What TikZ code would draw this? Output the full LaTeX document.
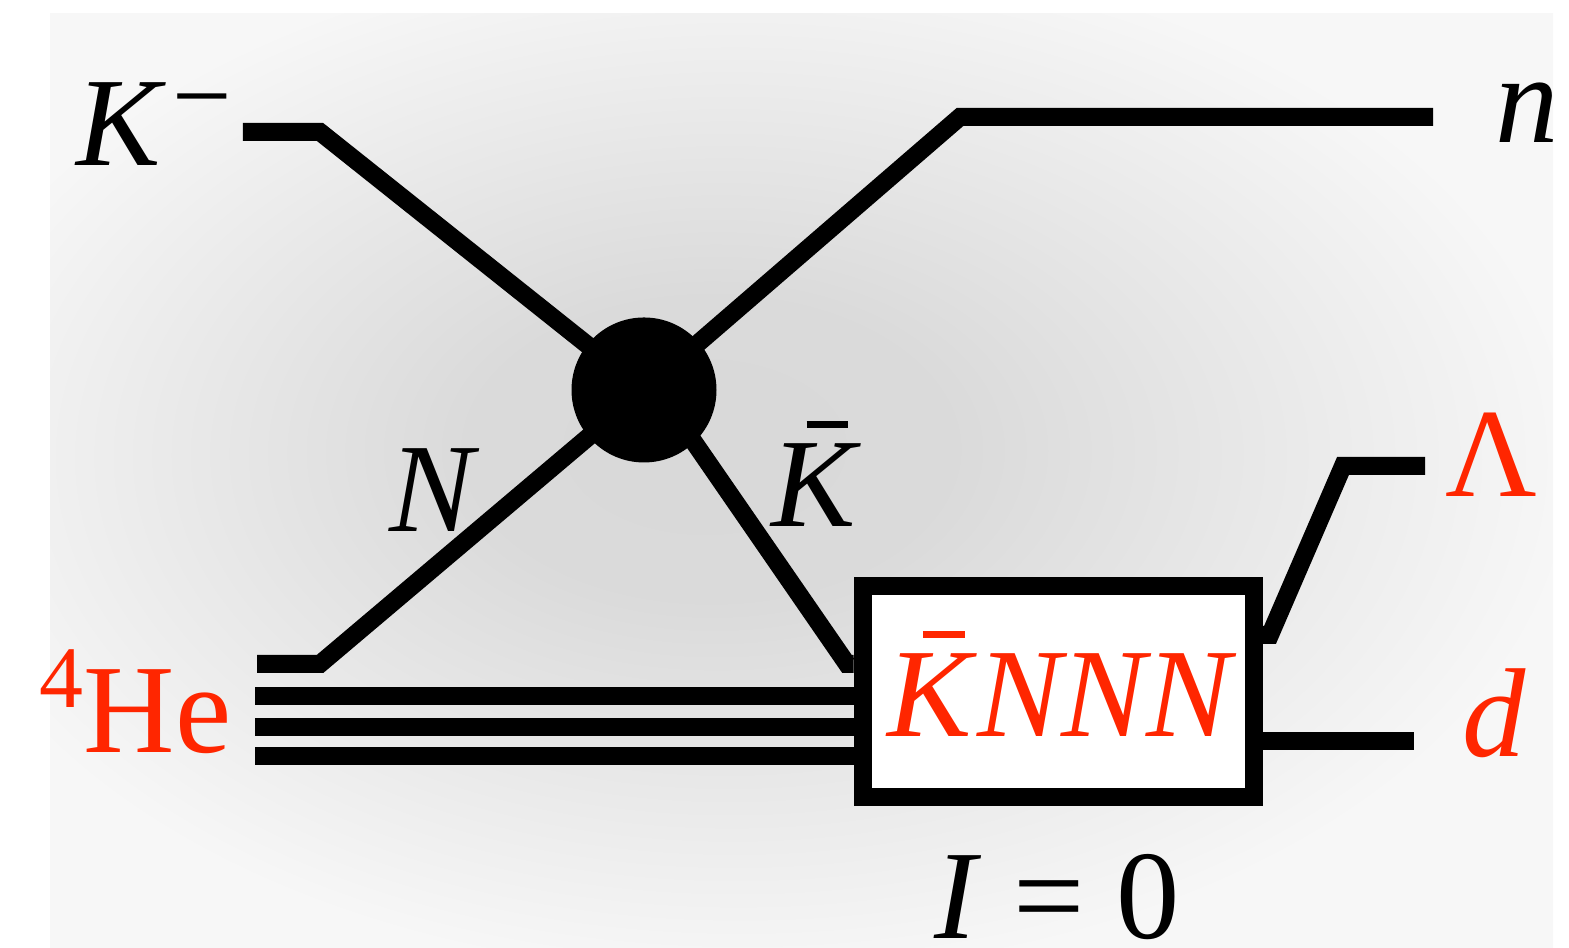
\documentclass[tikz,border=0pt]{standalone}
\usepackage{fontspec}
\setmainfont{Liberation Serif}
\usetikzlibrary{positioning}
\definecolor{hered}{RGB}{255,38,0}
\pgfdeclareradialshading{bgglow}{\pgfpoint{-3.5bp}{2bp}}{color(0bp)=(black!15); color(8bp)=(black!14.5); color(28bp)=(black!3); color(60bp)=(black!3)}
\newcommand{\barK}{\leavevmode\rlap{\hspace{0.28em}\rule[0.78em]{0.33em}{0.055em}}\textit{K}}

\begin{document}
\begin{tikzpicture}[
  wire/.style={line width=0.18cm},
  vertex/.style={circle, fill=black, minimum size=1.45cm, inner sep=0pt},
  blob/.style={rectangle, draw, fill=white, line width=0.18cm, minimum width=3.91cm, minimum height=2.11cm, inner sep=0pt},
  lbl/.style={font=\fontsize{36}{40}\selectfont, inner sep=0pt},
  rlbl/.style={lbl, text=hered}
]
\useasboundingbox (0,0) rectangle (15.69,9.48);
\shade[shading=bgglow] (0.50,0) rectangle (15.53,9.34);
% vertex and bound state
\node[vertex] (vtx) at (6.44,5.58) {};
\node[blob] (box) at (10.58,2.565) {};
% end points and bends
\coordinate (kin) at (2.43,8.16);
\coordinate (kbend) at (3.20,8.16);
\coordinate (nin) at (2.57,2.84);
\coordinate (nbend) at (3.20,2.84);
\coordinate (ntop) at (9.60,8.31);
\coordinate (nout) at (14.33,8.31);
\coordinate (kbbend) at (8.47,2.84);
\coordinate (lbend) at (12.70,3.13);
\coordinate (ltop) at (13.43,4.82);
\coordinate (lout) at (14.25,4.82);
\coordinate (dout) at (14.14,2.07);
\foreach \y [count=\i] in {2.52,2.21,1.92}
  \coordinate (he\i) at (2.55,\y);
% lines
\draw[wire] (kin) -- (kbend) -- (vtx.center);
\draw[wire] (nin) -- (nbend) -- (vtx.center);
\draw[wire] (vtx.center) -- (ntop) -- (nout);
\draw[wire] ([xshift=0.14cm]vtx.center) -- (kbbend) -- (box.west |- kbbend);
\foreach \i in {1,2,3}
  \draw[wire] (he\i) -- (box.west |- he\i);
\draw[wire] (box.east |- lbend) -- (lbend) -- (ltop) -- (lout);
\draw[wire] (box.east |- dout) -- (dout);
% labels
\node[lbl, anchor=base east] (kmlbl) at (2.33,7.82) {\textit{K}\hspace{0.05em}\raisebox{0.27em}{\fontsize{30}{30}\selectfont −}};
\node[lbl, anchor=base west] (nlbl) at (14.95,8.05) {\textit{n}};
\node[lbl, anchor=base] (Nlbl) at (4.35,4.16) {\textit{N}};
\node[lbl, anchor=base] (kblbl) at (8.16,4.21) {\barK};
\node[rlbl, anchor=base east] (helbl) at (2.32,1.95) {\raisebox{0.36em}{\fontsize{25}{25}\selectfont 4}He};
\node[rlbl, anchor=base] (knnn) at (10.62,2.11) {\barK\textit{NNN}};
\node[rlbl, anchor=base] (lamlbl) at (14.91,4.51) {Λ};
\node[rlbl, anchor=base] (dlbl) at (14.94,1.91) {\textit{d}};
\node[lbl, anchor=base, text depth=0pt] (isolbl) at (10.57,0.09) {\textit{I} = 0};
\end{tikzpicture}
\end{document}
